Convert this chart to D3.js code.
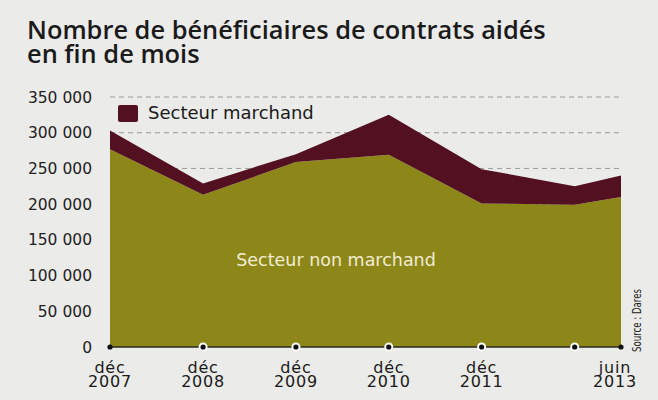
<!DOCTYPE html>
<html>
<head>
<meta charset="utf-8">
<script src="https://cdn.jsdelivr.net/npm/d3@7"></script>
<style>
  body { margin: 0; background: #ebebe9; }
  svg { display: block; font-family: "DejaVu Sans", sans-serif; }
</style>
</head>
<body>
<div id="chart"></div>
<script>
// periods (end of month)
var dates = ["2007-12", "2008-12", "2009-12", "2010-12", "2011-12", "2012-12", "2013-06"];
var tickLabels = [["déc", "2007"], ["déc", "2008"], ["déc", "2009"], ["déc", "2010"], ["déc", "2011"], null, ["juin", "2013"]];
// beneficiaries
var nonMarchand = [277000, 213000, 259000, 269000, 201000, 199000, 210000];
var marchand = [26000, 16000, 11000, 56000, 48000, 26000, 30000];
var yTicks = [0, 50000, 100000, 150000, 200000, 250000, 300000, 350000];

var width = 658, height = 400;
var parse = d3.timeParse("%Y-%m");
var data = dates.map(function(d, i) {
  return {date: parse(d), nonMarchand: nonMarchand[i], marchand: marchand[i]};
});

var x = d3.scaleTime().domain(d3.extent(data, function(d) { return d.date; })).range([110, 621]);
var y = d3.scaleLinear().domain([0, 350000]).range([347, 97]);

var svg = d3.select("#chart").append("svg").attr("width", width).attr("height", height);

svg.append("rect").attr("width", width).attr("height", height).attr("fill", "#ebebe9");

// title, two lines
svg.append("text").attr("x", 27).attr("y", 39)
  .attr("style", "font-family:'Open Sans',sans-serif;font-size:25.4px;font-weight:600").attr("fill", "#1a1a1a")
  .text("Nombre de bénéficiaires de contrats aidés");
svg.append("text").attr("x", 27).attr("y", 63)
  .attr("style", "font-family:'Open Sans',sans-serif;font-size:25.4px;font-weight:600").attr("fill", "#1a1a1a")
  .text("en fin de mois");

// gridlines behind the areas
svg.append("g").selectAll("line").data(yTicks.filter(function(t) { return t > 0; })).enter().append("line")
  .attr("x1", 110).attr("x2", 623)
  .attr("y1", function(d) { return y(d); }).attr("y2", function(d) { return y(d); })
  .attr("stroke", "#9a9a9a").attr("stroke-width", 1).attr("stroke-dasharray", "5,4");

var fmt = function(v) { return d3.format(",")(v).replace(/,/g, " "); };
svg.append("g").selectAll("text").data(yTicks).enter().append("text")
  .attr("x", 92).attr("y", function(d) { return y(d) + 5.5; })
  .attr("text-anchor", "end")
  .attr("style", "font-size:15.5px").attr("fill", "#222")
  .text(fmt);

var stack = d3.stack().keys(["nonMarchand", "marchand"]);
var series = stack(data);
var colors = {nonMarchand: "#8d8719", marchand: "#531020"};

var area = d3.area()
  .x(function(d) { return x(d.data.date); })
  .y0(function(d) { return y(d[0]); })
  .y1(function(d) { return y(d[1]); });

svg.append("g").selectAll("path").data(series).enter().append("path")
  .attr("d", area)
  .attr("fill", function(d) { return colors[d.key]; });

// baseline
svg.append("line").attr("x1", x(data[0].date)).attr("x2", x(data[data.length - 1].date))
  .attr("y1", y(0)).attr("y2", y(0)).attr("stroke", "#2a2a1a").attr("stroke-width", 1.5);

// dots on the baseline
var last = data.length - 1;
svg.append("g").selectAll("circle").data(data).enter().append("circle")
  .attr("cx", function(d) { return x(d.date); }).attr("cy", y(0))
  .attr("r", function(d, i) { return i == 0 || i == last ? 0 : 4.5; })
  .attr("fill", "#fff");
svg.append("g").selectAll("circle").data(data).enter().append("circle")
  .attr("cx", function(d) { return x(d.date); }).attr("cy", y(0))
  .attr("r", 2.6).attr("fill", "#111");

// x labels
var xl = svg.append("g").selectAll("text").data(data).enter().append("text")
  .attr("text-anchor", "middle")
  .attr("style", "font-size:16px;letter-spacing:0.8px").attr("fill", "#1a1a1a")
  .attr("transform", function(d, i) { return "translate(" + (x(d.date) - (i == last ? 6 : 0)) + ",372.5)"; });
xl.append("tspan").attr("x", 0).text(function(d, i) { return tickLabels[i] ? tickLabels[i][0] : ""; });
xl.append("tspan").attr("x", 0).attr("dy", 14.5).text(function(d, i) { return tickLabels[i] ? tickLabels[i][1] : ""; });

// legend
svg.append("rect").attr("x", 118).attr("y", 105).attr("width", 20).attr("height", 17).attr("rx", 2)
  .attr("fill", colors.marchand);
svg.append("text").attr("x", 148).attr("y", 119).text("Secteur marchand")
  .attr("style", "font-size:18px").attr("fill", "#1a1a1a");

svg.append("text").attr("x", 336).attr("y", 266).attr("text-anchor", "middle")
  .text("Secteur non marchand").attr("style", "font-size:17.5px").attr("fill", "#f2ecd2");

svg.append("text").attr("transform", "translate(641,352) rotate(-90)")
  .text("Source : Dares").attr("textLength", 63).attr("lengthAdjust", "spacingAndGlyphs")
  .attr("style", "font-size:11.5px").attr("fill", "#222");
</script>
</body>
</html>
